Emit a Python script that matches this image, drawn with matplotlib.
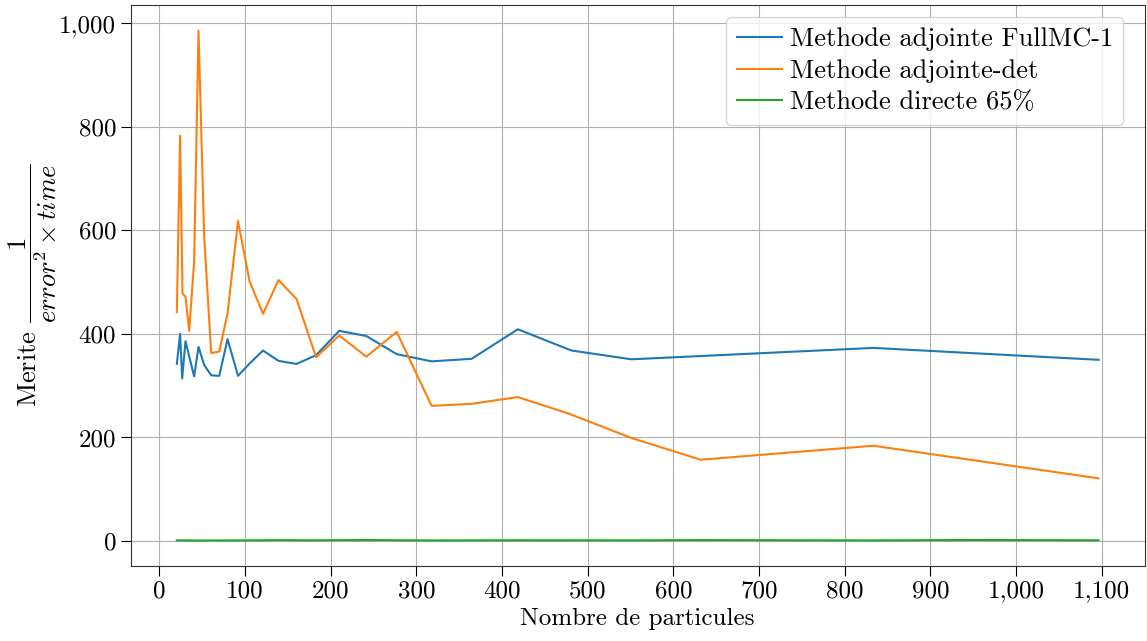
import matplotlib
matplotlib.use("Agg")
import matplotlib.pyplot as plt
from matplotlib.ticker import FuncFormatter, MultipleLocator

# --- data ---
n_adj_mc = [20.4, 24.2, 26.6, 30.5, 40.6, 45.7, 52.3, 60.5, 69.9, 79.6, 91.8,
            105.4, 121, 139, 160, 183, 210, 241.6, 277, 317.8, 364.6, 418.5,
            481, 551, 833.6, 1096.5]
merit_adj_mc = [342, 400, 314, 386, 318, 375, 340, 320, 319, 390, 319,
                343, 368, 348, 342, 359, 406, 396, 361, 347, 352, 409,
                368, 351, 373, 350]

n_adj_det = [20.4, 24.2, 27, 30.5, 34.8, 40.6, 45.7, 52.3, 60.5, 69.9, 79.6,
             91.8, 105.4, 121, 139, 160, 183, 210, 241.6, 277, 317.8, 364.6,
             418.5, 478, 551, 632, 833.6, 1096.5]
merit_adj_det = [442, 783, 478, 472, 406, 540, 986, 588, 363, 366, 440,
                 618, 501, 439, 504, 468, 355, 397, 356, 404, 261, 265,
                 278, 246, 199, 157, 184, 121]

n_direct = [20.4, 45.7, 91.8, 139, 183, 241.6, 317.8, 418.5, 551, 632,
            833.6, 950, 1096.5]
merit_direct = [1.2, 0.9, 1.1, 1.6, 1.3, 1.8, 1.0, 1.4, 1.2, 1.7, 1.1, 1.9, 1.3]

labels = ["Methode adjointe FullMC-1", "Methode adjointe-det",
          "Methode directe 65%"]

plt.rcParams["font.family"] = "serif"
plt.rcParams["font.serif"] = ["cmr10", "DejaVu Serif"]
plt.rcParams["mathtext.fontset"] = "cm"
plt.rcParams["axes.unicode_minus"] = False
plt.rcParams["font.size"] = 17

fig, ax = plt.subplots(figsize=(11.47, 6.41), dpi=100)

ax.plot(n_adj_mc, merit_adj_mc, color="#1f77b4", lw=1.5, label=labels[0])
ax.plot(n_adj_det, merit_adj_det, color="#ff7f0e", lw=1.5, label=labels[1])
ax.plot(n_direct, merit_direct, color="#2ca02c", lw=1.5, label=labels[2])

thousands = FuncFormatter(lambda v, _: f"{v:,.0f}")
ax.xaxis.set_major_locator(MultipleLocator(100))
ax.yaxis.set_major_locator(MultipleLocator(200))
ax.xaxis.set_major_formatter(thousands)
ax.yaxis.set_major_formatter(thousands)
ax.tick_params(length=7, width=0.8, labelsize=18)

ax.set_xlabel("Nombre de particules", fontsize=18, labelpad=4)
ax.set_ylabel(r"Merite $\dfrac{1}{error^2\times time}$", fontsize=19,
              labelpad=0)
ax.grid(True, color="#b0b0b0", lw=0.8)
ax.set_axisbelow(True)
for sp in ax.spines.values():
    sp.set_color("#333333")

ax.legend(loc="upper right", bbox_to_anchor=(0.979, 0.979), borderaxespad=0,
          fontsize=19, labelspacing=0.3, handlelength=1.7, handletextpad=0.3)

fig.subplots_adjust(left=0.114, right=0.998, top=0.992, bottom=0.117)
fig.savefig("out.png", dpi=100)
